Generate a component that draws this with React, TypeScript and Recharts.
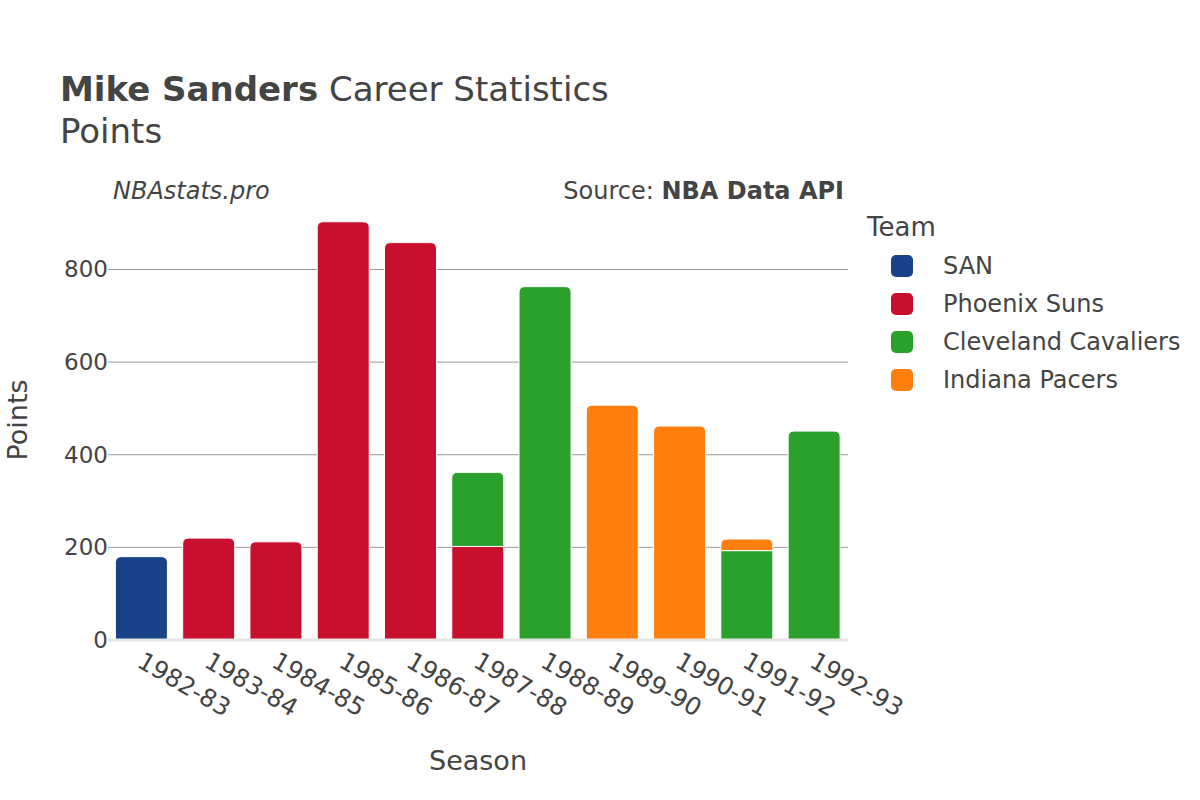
import React from 'react';
import { BarChart, Bar, XAxis, YAxis, CartesianGrid } from 'recharts';

const seasons = ['1982-83', '1983-84', '1984-85', '1985-86', '1986-87', '1987-88', '1988-89', '1989-90', '1990-91', '1991-92', '1992-93'];
const san = [180, 0, 0, 0, 0, 0, 0, 0, 0, 0, 0];
const phoenix = [0, 220, 212, 903, 858, 202, 0, 0, 0, 0, 0];
const cleveland = [0, 0, 0, 0, 0, 160, 763, 0, 0, 193, 451];
const indiana = [0, 0, 0, 0, 0, 0, 0, 507, 462, 25, 0];
const yTicks = [0, 200, 400, 600, 800];

const teams = [
  { key: 'san', name: 'SAN', color: '#1a428a' },
  { key: 'phoenix', name: 'Phoenix Suns', color: '#c8102e' },
  { key: 'cleveland', name: 'Cleveland Cavaliers', color: '#2ca02c' },
  { key: 'indiana', name: 'Indiana Pacers', color: '#ff7f0e' },
];

const data = seasons.map((season, i) => ({
  season,
  san: san[i],
  phoenix: phoenix[i],
  cleveland: cleveland[i],
  indiana: indiana[i],
}));

const FONT = '"DejaVu Sans", sans-serif';
const TEXT = '#444';

// rounded top only on the last non-empty segment of a stack
function makeShape(teamIdx: number, color: string) {
  return (props: any) => {
    const { x, y, width, height, payload } = props;
    if (!height || height <= 0) return <g />;
    const isTop = teams.slice(teamIdx + 1).every((t) => !payload[t.key]);
    const r = isTop ? Math.min(6, height) : 0;
    const d = `M${x},${y + height} L${x},${y + r} Q${x},${y} ${x + r},${y} L${x + width - r},${y} Q${x + width},${y} ${x + width},${y + r} L${x + width},${y + height} Z`;
    return <path d={d} fill={color} stroke="#fff" strokeWidth={1} />;
  };
}

const XTick = (props: any) => {
  const { x, y, payload } = props;
  const tx = x - 6;
  const ty = y + 18;
  return (
    <text
      x={tx}
      y={ty}
      transform={`rotate(30, ${tx}, ${ty})`}
      textAnchor="start"
      fontSize={24.5}
      fontFamily={FONT}
      fill={TEXT}
    >
      {payload.value}
    </text>
  );
};

const YTick = (props: any) => {
  const { x, y, payload } = props;
  return (
    <text x={x + 8} y={y + 8} textAnchor="end" fontSize={23} fontFamily={FONT} fill={TEXT}>
      {payload.value}
    </text>
  );
};

export default function App() {
  return (
    <div style={{ position: 'absolute', left: 0, top: 0, width: 1200, height: 800, background: '#fff' }}>
      <BarChart
        width={1200}
        height={800}
        data={data}
        margin={{ top: 200, right: 352, bottom: 30, left: 48 }}
        barCategoryGap="11%"
      >
        <CartesianGrid vertical={false} horizontalValues={[200, 400, 600, 800]} stroke="#999" strokeWidth={1} />
        <XAxis
          dataKey="season"
          height={130}
          tick={<XTick />}
          tickLine={false}
          axisLine={{ stroke: '#e5e5e5', strokeWidth: 3 }}
          interval={0}
        />
        <YAxis
          width={60}
          domain={[0, 950]}
          ticks={yTicks}
          tick={<YTick />}
          tickLine={false}
          axisLine={false}
        />
        {teams.map((t, i) => (
          <Bar
            key={t.key}
            dataKey={t.key}
            name={t.name}
            stackId="a"
            fill={t.color}
            shape={makeShape(i, t.color)}
            isAnimationActive={false}
          />
        ))}
      </BarChart>
      <svg
        width={1200}
        height={800}
        style={{ position: 'absolute', left: 0, top: 0, pointerEvents: 'none' }}
        fontFamily={FONT}
      >
        <text x={60} y={101} fontSize={34} fill={TEXT}>
          <tspan fontWeight="bold">Mike Sanders</tspan> Career Statistics
        </text>
        <text x={60} y={143} fontSize={34} fill={TEXT}>Points</text>
        <text x={113} y={199} fontSize={24} fontStyle="italic" fill={TEXT}>NBAstats.pro</text>
        <text x={844} y={199} fontSize={24} textAnchor="end" fill={TEXT}>
          Source: <tspan fontWeight="bold">NBA Data API</tspan>
        </text>
        <text x={27} y={420} fontSize={27} textAnchor="middle" fill={TEXT} transform="rotate(-90, 27, 420)">
          Points
        </text>
        <text x={478} y={770} fontSize={27} textAnchor="middle" fill={TEXT}>Season</text>
        <text x={867} y={236} fontSize={26} fill={TEXT}>Team</text>
        {teams.map((t, i) => (
          <g key={t.key}>
            <rect x={891} y={255 + i * 38} width={22} height={22} rx={5} fill={t.color} />
            <text x={943} y={274 + i * 38} fontSize={24} fill={TEXT}>{t.name}</text>
          </g>
        ))}
      </svg>
    </div>
  );
}
